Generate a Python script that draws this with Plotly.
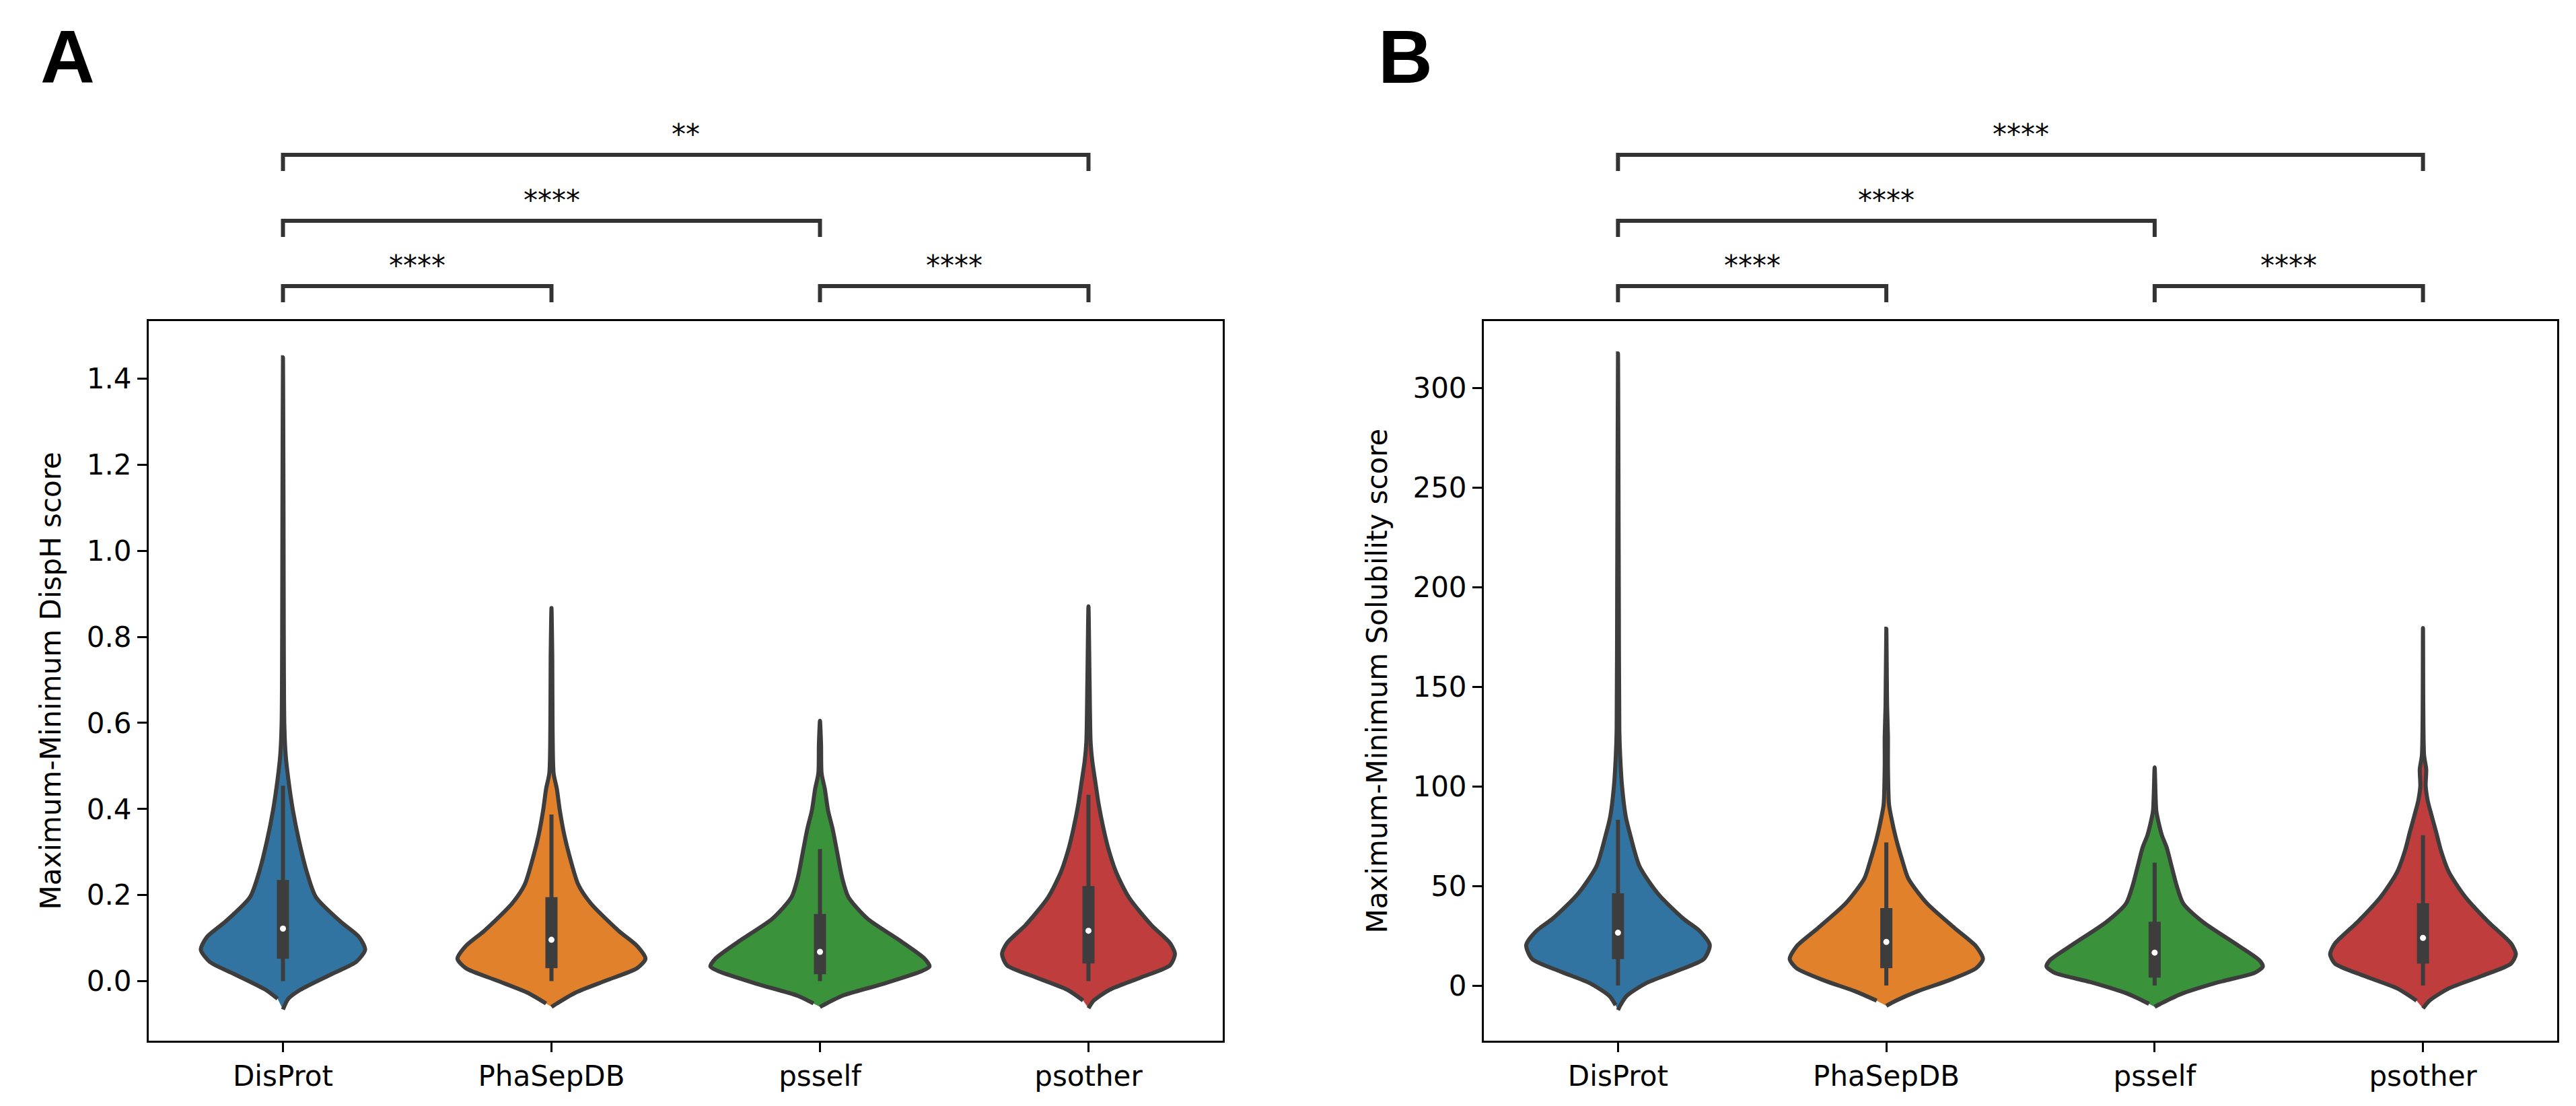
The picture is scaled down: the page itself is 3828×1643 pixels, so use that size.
import plotly.graph_objects as go

W, H = 3828, 1643

categories = ["DisProt", "PhaSepDB", "psself", "psother"]
colors = ["#3274a1", "#e1812c", "#3a923a", "#c03d3e"]
gray = "#3d3d3d"

# ---------------- Panel A: Maximum-Minimum DispH score ----------------
# violin outlines: value levels and half-widths (category units)
dispH_DisProt_y = [-0.066, -0.041, -0.020, 0.016, 0.045, 0.073, 0.102, 0.138, 0.195, 0.253, 0.325, 0.397, 0.469, 0.526, 0.598, 0.80, 1.10, 1.45]
dispH_DisProt_w = [0.0, 0.020, 0.065, 0.180, 0.273, 0.306, 0.284, 0.215, 0.123, 0.089, 0.060, 0.037, 0.020, 0.010, 0.005, 0.003, 0.002, 0.0]
dispH_PhaSepDB_y = [-0.060, -0.052, -0.027, 0.0015, 0.030, 0.052, 0.081, 0.117, 0.181, 0.224, 0.282, 0.339, 0.397, 0.447, 0.483, 0.60, 0.75, 0.867]
dispH_PhaSepDB_w = [0.0, 0.020, 0.089, 0.204, 0.319, 0.350, 0.320, 0.250, 0.146, 0.100, 0.071, 0.048, 0.031, 0.020, 0.008, 0.004, 0.003, 0.0]
dispH_psself_y = [-0.060, -0.052, -0.034, -0.006, 0.023, 0.034, 0.052, 0.095, 0.145, 0.195, 0.239, 0.296, 0.354, 0.397, 0.447, 0.483, 0.55, 0.605]
dispH_psself_w = [0.0, 0.024, 0.083, 0.237, 0.378, 0.408, 0.390, 0.296, 0.177, 0.106, 0.083, 0.065, 0.047, 0.030, 0.018, 0.006, 0.004, 0.0]
dispH_psother_y = [-0.063, -0.045, -0.020, 0.009, 0.037, 0.063, 0.088, 0.131, 0.195, 0.253, 0.310, 0.354, 0.411, 0.461, 0.512, 0.555, 0.70, 0.871]
dispH_psother_w = [0.0, 0.020, 0.079, 0.197, 0.304, 0.322, 0.304, 0.233, 0.150, 0.103, 0.073, 0.056, 0.038, 0.026, 0.014, 0.008, 0.004, 0.0]
# inner box: q1, median, q3, lower whisker, upper whisker
dispH_q1 = [0.052, 0.030, 0.016, 0.041]
dispH_median = [0.122, 0.096, 0.068, 0.117]
dispH_q3 = [0.235, 0.195, 0.156, 0.221]
dispH_whisker_lo = [0.0, 0.0, 0.0, 0.0]
dispH_whisker_hi = [0.454, 0.387, 0.307, 0.433]
dispH_ticks = [0.0, 0.2, 0.4, 0.6, 0.8, 1.0, 1.2, 1.4]
dispH_ticktext = ["0.0", "0.2", "0.4", "0.6", "0.8", "1.0", "1.2", "1.4"]
dispH_pairs = [("DisProt", "PhaSepDB"), ("psself", "psother"), ("DisProt", "psself"), ("DisProt", "psother")]
dispH_stars = ["****", "****", "****", "**"]

# ---------------- Panel B: Maximum-Minimum Solubility score ----------------
sol_DisProt_y = [-12.3, -9.9, -5.3, 0.9, 7.1, 13.3, 20.3, 27.3, 33.5, 45.9, 59.9, 75.4, 84.7, 100.2, 115.7, 128.2, 200.0, 317.3]
sol_DisProt_w = [0.0, 0.009, 0.032, 0.101, 0.216, 0.320, 0.342, 0.305, 0.244, 0.150, 0.080, 0.046, 0.029, 0.015, 0.008, 0.005, 0.003, 0.0]
sol_PhaSepDB_y = [-10.2, -7.6, -2.9, 2.5, 8.7, 13.3, 19.6, 28.9, 41.3, 53.7, 63.0, 73.8, 84.7, 90.9, 110.0, 125.0, 140.0, 179.1]
sol_PhaSepDB_w = [0.0, 0.036, 0.116, 0.231, 0.335, 0.360, 0.335, 0.254, 0.151, 0.082, 0.059, 0.036, 0.018, 0.010, 0.006, 0.006, 0.003, 0.0]
sol_psself_y = [-10.7, -9.2, -4.5, 1.7, 6.4, 9.5, 12.6, 21.1, 32.0, 41.3, 50.6, 59.9, 69.2, 75.4, 81.6, 87.8, 109.5]
sol_psself_w = [0.0, 0.021, 0.094, 0.239, 0.373, 0.403, 0.391, 0.300, 0.179, 0.106, 0.081, 0.063, 0.045, 0.027, 0.015, 0.006, 0.0]
sol_psother_y = [-11.5, -7.6, -1.4, 4.8, 11.0, 15.7, 21.1, 32.0, 44.4, 56.8, 67.7, 77.0, 86.3, 92.5, 100.2, 108.5, 115.7, 179.4]
sol_psother_w = [0.0, 0.024, 0.097, 0.219, 0.328, 0.346, 0.328, 0.243, 0.158, 0.097, 0.067, 0.049, 0.030, 0.018, 0.010, 0.012, 0.004, 0.0]
sol_q1 = [13.3, 8.7, 4.0, 11.0]
sol_median = [26.5, 21.9, 16.5, 23.9]
sol_q3 = [46.3, 38.9, 32.0, 41.3]
sol_whisker_lo = [0.0, 0.0, 0.0, 0.0]
sol_whisker_hi = [83.2, 71.8, 61.7, 75.4]
sol_ticks = [0, 50, 100, 150, 200, 250, 300]
sol_ticktext = ["0", "50", "100", "150", "200", "250", "300"]
sol_pairs = [("DisProt", "PhaSepDB"), ("psself", "psother"), ("DisProt", "psself"), ("DisProt", "psother")]
sol_stars = ["****", "****", "****", "****"]

panels = [
    dict(xa="x", ya="y", label="A", title="Maximum-Minimum DispH score",
         outlines=[(dispH_DisProt_y, dispH_DisProt_w), (dispH_PhaSepDB_y, dispH_PhaSepDB_w),
                   (dispH_psself_y, dispH_psself_w), (dispH_psother_y, dispH_psother_w)],
         q1=dispH_q1, med=dispH_median, q3=dispH_q3, wlo=dispH_whisker_lo, whi=dispH_whisker_hi,
         pairs=dispH_pairs, stars=dispH_stars, ticks=dispH_ticks, ticktext=dispH_ticktext,
         yrange=[-0.1385, 1.534], dom=[221 / W, 1817 / W], title_x=75 / W, label_x=58 / W),
    dict(xa="x2", ya="y2", label="B", title="Maximum-Minimum Solubility score",
         outlines=[(sol_DisProt_y, sol_DisProt_w), (sol_PhaSepDB_y, sol_PhaSepDB_w),
                   (sol_psself_y, sol_psself_w), (sol_psother_y, sol_psother_w)],
         q1=sol_q1, med=sol_median, q3=sol_q3, wlo=sol_whisker_lo, whi=sol_whisker_hi,
         pairs=sol_pairs, stars=sol_stars, ticks=sol_ticks, ticktext=sol_ticktext,
         yrange=[-27.7, 333.5], dom=[2205 / W, 3800 / W], title_x=2046 / W, label_x=2046 / W),
]

FONT = "DejaVu Sans"
fig = go.Figure()
shapes = []
annotations = []

y_bottom = 1 - 1546 / H
y_top = 1 - 477 / H
bracket_levels_px = [425, 328, 230]
bracket_drop_px = 24

for p in panels:
    for i, (vy, vw) in enumerate(p["outlines"]):
        n = len(vy)
        xs = [i + w for w in vw] + [i - vw[k] for k in range(n - 2, 0, -1)]
        ys = list(vy) + [vy[k] for k in range(n - 2, 0, -1)]
        fig.add_trace(go.Scatter(
            x=xs, y=ys, mode="lines", fill="toself", fillcolor=colors[i],
            line=dict(color=gray, width=6, shape="spline", smoothing=0.7),
            xaxis=p["xa"], yaxis=p["ya"], hoverinfo="skip", showlegend=False))
        fig.add_trace(go.Scatter(
            x=[i, i], y=[p["wlo"][i], p["whi"][i]], mode="lines",
            line=dict(color=gray, width=6), xaxis=p["xa"], yaxis=p["ya"],
            hoverinfo="skip", showlegend=False))
        fig.add_trace(go.Scatter(
            x=[i, i], y=[p["q1"][i], p["q3"][i]], mode="lines",
            line=dict(color=gray, width=18), xaxis=p["xa"], yaxis=p["ya"],
            hoverinfo="skip", showlegend=False))
        fig.add_trace(go.Scatter(
            x=[i], y=[p["med"][i]], mode="markers",
            marker=dict(color="white", size=9, line=dict(width=0)),
            xaxis=p["xa"], yaxis=p["ya"], hoverinfo="skip", showlegend=False))

    # significance brackets
    levels = [0, 0, 1, 2]
    for (a, b), s, lv in zip(p["pairs"], p["stars"], levels):
        x0, x1 = categories.index(a), categories.index(b)
        yl = 1 - bracket_levels_px[lv] / H
        yd = 1 - (bracket_levels_px[lv] + bracket_drop_px) / H
        shapes.append(dict(type="path", xref=p["xa"], yref="paper",
                           path=f"M {x0},{yd} L {x0},{yl} L {x1},{yl} L {x1},{yd}",
                           line=dict(color="#333333", width=6)))
        annotations.append(dict(x=(x0 + x1) / 2, y=yl, xref=p["xa"], yref="paper",
                                text=s, showarrow=False, xanchor="center", yanchor="bottom",
                                yshift=4, font=dict(family=FONT, size=42, color="black")))

    annotations.append(dict(x=p["title_x"], y=(y_bottom + y_top) / 2, xref="paper", yref="paper",
                            text=p["title"], textangle=-90, showarrow=False,
                            xanchor="center", yanchor="middle",
                            font=dict(family=FONT, size=42, color="black")))
    annotations.append(dict(x=p["label_x"], y=1 - 20 / H, xref="paper", yref="paper",
                            text=f"<b>{p['label']}</b>", showarrow=False,
                            xanchor="left", yanchor="top",
                            font=dict(family="Liberation Sans", size=112, color="black")))

axis_common = dict(showline=True, mirror=True, linecolor="black", linewidth=3,
                   ticks="outside", ticklen=14, tickwidth=3, tickcolor="black",
                   showgrid=False, zeroline=False,
                   tickfont=dict(family=FONT, size=42, color="black"))

layout_axes = {}
for k, p in enumerate(panels):
    sx = "" if k == 0 else str(k + 1)
    layout_axes["xaxis" + sx] = dict(axis_common, domain=p["dom"], range=[-0.5, 3.5],
                                     tickvals=list(range(len(categories))), ticktext=categories,
                                     anchor="y" + sx)
    layout_axes["yaxis" + sx] = dict(axis_common, domain=[y_bottom, y_top], range=p["yrange"],
                                     tickvals=p["ticks"], ticktext=p["ticktext"],
                                     anchor="x" + sx)

fig.update_layout(width=W, height=H, margin=dict(l=0, r=0, t=0, b=0),
                  plot_bgcolor="white", paper_bgcolor="white",
                  shapes=shapes, annotations=annotations, **layout_axes)

fig.write_html("out.html", config={"displayModeBar": False},
               post_script="document.body.style.margin='0px';")
